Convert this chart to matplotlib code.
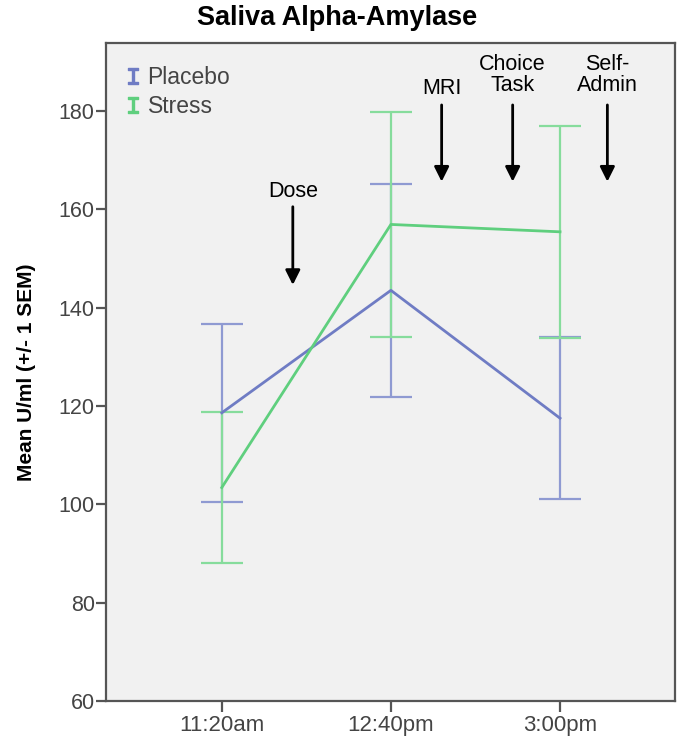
import matplotlib
matplotlib.use("Agg")
import matplotlib.pyplot as plt
from matplotlib.lines import Line2D
import numpy as np

# data
timepoints   = ["11:20am", "12:40pm", "3:00pm"]
placebo_mean = [118.6, 143.5, 117.5]
placebo_sem  = [18.1, 21.6, 16.5]
stress_mean  = [103.4, 156.9, 155.4]
stress_sem   = [15.4, 22.9, 21.5]

# event markers: label, x (category units), text y, arrow start, arrow end
events   = ["Dose", "MRI", "Choice\nTask", "Self-\nAdmin"]
event_x  = [0.42, 1.30, 1.72, 2.28]
event_ty = [163.5, 184.6, 187.3, 187.3]
arrow_y0 = [160.5, 181.2, 181.2, 181.2]
arrow_y1 = [144.6, 165.6, 165.6, 165.6]

# colours
C_PLA      = "#6f7cc4"
C_PLA_ERR  = "#8f9ad2"
C_STR      = "#5fcf7e"
C_STR_ERR  = "#86dc9c"
C_FRAME    = "#555555"
C_TEXT     = "#444444"

plt.rcParams["font.family"] = ["Liberation Sans", "DejaVu Sans"]

fig = plt.figure(figsize=(6.78, 7.46), dpi=100)
ax = fig.add_axes([0.156, 0.0603, 0.8396, 0.8821])
ax.set_facecolor("#f1f1f1")

x = np.arange(len(timepoints))

ax.errorbar(x, placebo_mean, yerr=placebo_sem, fmt="none", ecolor=C_PLA_ERR,
            elinewidth=1.6, capsize=15, capthick=1.6, zorder=2)
ax.errorbar(x, stress_mean, yerr=stress_sem, fmt="none", ecolor=C_STR_ERR,
            elinewidth=1.6, capsize=15, capthick=1.6, zorder=2)
ax.plot(x, placebo_mean, color=C_PLA, lw=2, zorder=3)
ax.plot(x, stress_mean, color=C_STR, lw=2, zorder=3)

# event arrows
for lab, ex, ty, y0, y1 in zip(events, event_x, event_ty, arrow_y0, arrow_y1):
    ax.annotate("", xy=(ex, y1), xytext=(ex, y0),
                arrowprops=dict(arrowstyle="-|>", color="black", lw=2,
                                mutation_scale=22, shrinkA=0, shrinkB=0))
    ax.text(ex, ty, lab, ha="center", va="center", fontsize=15.5,
            color="black", linespacing=1.0)

# axes
ax.set_xlim(-0.686, 2.68)
ax.set_ylim(60, 193.8)
ax.set_xticks(x)
ax.set_xticklabels(timepoints, fontsize=16, color=C_TEXT)
ax.set_yticks(np.arange(60, 181, 20))
ax.tick_params(axis="y", labelsize=15.5, labelcolor=C_TEXT, direction="out",
               length=7, width=1.6, color=C_FRAME, pad=1)
ax.tick_params(axis="x", direction="out", length=8, width=1.6,
               color=C_FRAME, pad=2)
for sp in ax.spines.values():
    sp.set_color(C_FRAME)
    sp.set_linewidth(1.6)

ax.set_ylabel("Mean U/ml (+/- 1 SEM)", fontsize=15, fontweight="bold", labelpad=16)

fig.text(0.497, 0.976, "Saliva Alpha-Amylase", ha="center", va="center",
         fontsize=19.5, fontweight="bold")

handles = [
    Line2D([], [], ls="none", marker=r"$\mathtt{I}$", markersize=12,
           color=C_PLA, label="Placebo"),
    Line2D([], [], ls="none", marker=r"$\mathtt{I}$", markersize=12,
           color=C_STR, label="Stress"),
]
leg = ax.legend(handles=handles, loc="upper left", bbox_to_anchor=(0.005, 0.99),
                frameon=False, fontsize=16.5, handlelength=0.7, handletextpad=0.3,
                labelspacing=0.3, borderaxespad=0.3)
for t in leg.get_texts():
    t.set_color(C_TEXT)

fig.savefig("out.png", dpi=100)
